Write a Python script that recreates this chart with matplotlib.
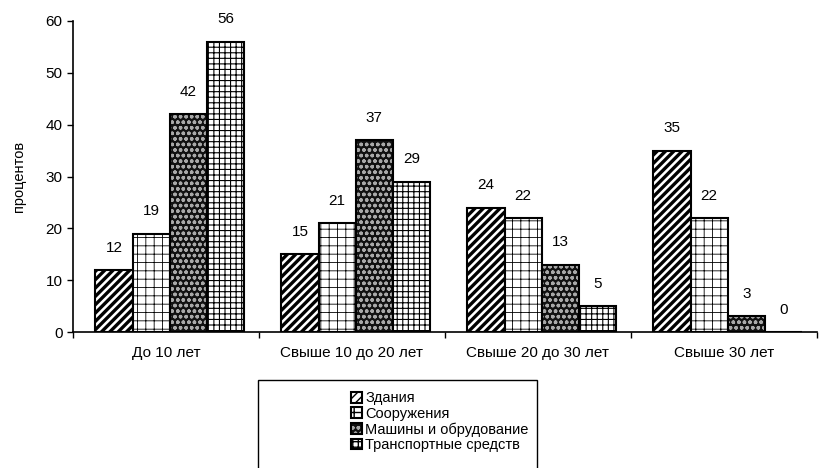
import numpy as np
import matplotlib.pyplot as plt
from matplotlib.patches import Rectangle

plt.rcParams['font.family'] = ['Liberation Sans', 'DejaVu Sans']
plt.rcParams['hatch.linewidth'] = 1.0

categories = ['До 10 лет', 'Свыше 10 до 20 лет', 'Свыше 20 до 30 лет', 'Свыше 30 лет']
series = ['Здания', 'Сооружения', 'Машины и обрудование', 'Транспортные средств']
zdaniya = [12, 15, 24, 35]
sooruzh = [19, 21, 22, 22]
mashiny = [42, 37, 13, 3]
transport = [56, 29, 5, 0]

values = [zdaniya, sooruzh, mashiny, transport]
# face, hatch colour, hatch, hatch width
styles = [
    dict(face='white', hcol='black', hatch='////', hlw=2.4),
    dict(face='white', hcol='black', hatch='++', hlw=0.6),
    dict(face='#111111', hcol='#a8a8a8', hatch='ooo', hlw=1.0),
    dict(face='white', hcol='black', hatch='+++', hlw=0.8),
]

fig = plt.figure(figsize=(8.39, 4.68), dpi=100)
ax = fig.add_axes([73/839, 1-332/468, (817-73)/839, (332-21)/468])

x = np.arange(len(categories))
w = 0.2
handles = []
for i, (vals, st) in enumerate(zip(values, styles)):
    pos = x + (i - 1.5)*w + 0.02
    fill = ax.bar(pos, vals, width=w, facecolor=st['face'], edgecolor=st['hcol'],
                  linewidth=0, hatch=st['hatch'])
    for b in fill:
        if hasattr(b, 'set_hatch_linewidth'):
            b.set_hatch_linewidth(st['hlw'])
    outline = ax.bar(pos, vals, width=w, facecolor='none', edgecolor='black', linewidth=1.5)
    handles.append((fill, outline))
    for b, v in zip(outline, vals):
        ax.annotate(str(v), (b.get_x() + b.get_width()/2, v), xytext=(0, 11),
                    textcoords='offset points', ha='center', va='bottom', fontsize=11)

ax.set_xlim(-0.5, 3.5)
ax.set_ylim(0, 60)
ax.set_yticks(range(0, 61, 10))
ax.set_xticks(x)
ax.set_xticklabels(categories, fontsize=11)
ax.set_xticks(np.arange(-0.5, 4, 1), minor=True)
ax.tick_params(axis='x', which='major', length=0, pad=10)
ax.tick_params(axis='x', which='minor', length=4, width=1, direction='out')
ax.tick_params(axis='y', length=4, width=1, labelsize=11)
ax.set_ylabel('процентов', fontsize=10.5, labelpad=14)
for s in ['top', 'right']:
    ax.spines[s].set_visible(False)
for s in ['left', 'bottom']:
    ax.spines[s].set_linewidth(1.2)

fig.patches.append(Rectangle((258/839, -0.05), (537-258)/839, 0.05 + 1-380/468,
                             transform=fig.transFigure, facecolor='none',
                             edgecolor='black', linewidth=1.0))
leg = fig.legend([(f[0], o[0]) for f, o in handles], series,
                 loc='upper left', bbox_to_anchor=(344/839, 1-384/468), frameon=False,
                 fontsize=10.5, handlelength=0.75, handleheight=0.75, handletextpad=0.2,
                 labelspacing=0.1, borderpad=0.0)

fig.savefig('out.png', dpi=100)
